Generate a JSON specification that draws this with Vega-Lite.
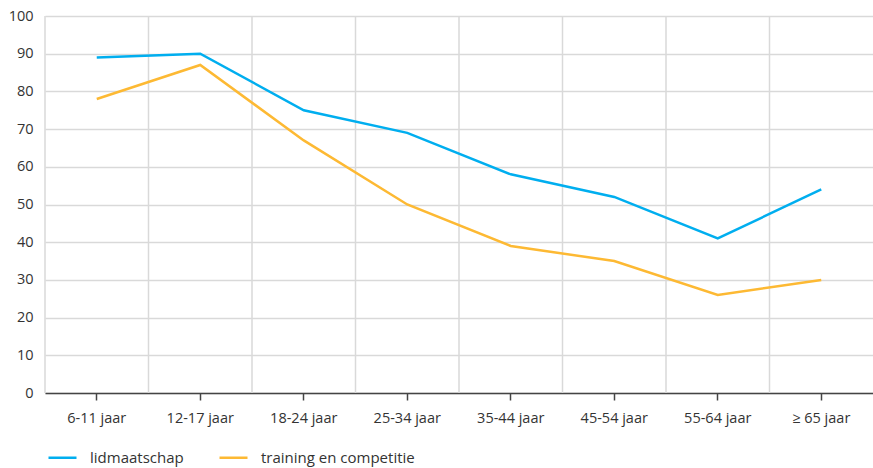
{
  "$schema": "https://vega.github.io/schema/vega-lite/v6.json",
  "autosize": {"type": "none"},
  "padding": {"left": 45, "top": 16, "right": 0, "bottom": 75},
  "width": 828,
  "height": 377,
  "config": {
    "font": "Open Sans",
    "view": {"stroke": null}
  },
  "data": {
    "values": [
      {"leeftijd": "6-11 jaar", "reeks": "lidmaatschap", "waarde": 89},
      {"leeftijd": "12-17 jaar", "reeks": "lidmaatschap", "waarde": 90},
      {"leeftijd": "18-24 jaar", "reeks": "lidmaatschap", "waarde": 75},
      {"leeftijd": "25-34 jaar", "reeks": "lidmaatschap", "waarde": 69},
      {"leeftijd": "35-44 jaar", "reeks": "lidmaatschap", "waarde": 58},
      {"leeftijd": "45-54 jaar", "reeks": "lidmaatschap", "waarde": 52},
      {"leeftijd": "55-64 jaar", "reeks": "lidmaatschap", "waarde": 41},
      {"leeftijd": "≥ 65 jaar", "reeks": "lidmaatschap", "waarde": 54},
      {"leeftijd": "6-11 jaar", "reeks": "training en competitie", "waarde": 78},
      {"leeftijd": "12-17 jaar", "reeks": "training en competitie", "waarde": 87},
      {"leeftijd": "18-24 jaar", "reeks": "training en competitie", "waarde": 67},
      {"leeftijd": "25-34 jaar", "reeks": "training en competitie", "waarde": 50},
      {"leeftijd": "35-44 jaar", "reeks": "training en competitie", "waarde": 39},
      {"leeftijd": "45-54 jaar", "reeks": "training en competitie", "waarde": 35},
      {"leeftijd": "55-64 jaar", "reeks": "training en competitie", "waarde": 26},
      {"leeftijd": "≥ 65 jaar", "reeks": "training en competitie", "waarde": 30}
    ]
  },
  "encoding": {
    "x": {
      "field": "leeftijd",
      "type": "nominal",
      "sort": null,
      "scale": {"type": "band", "paddingInner": 0, "paddingOuter": 0},
      "axis": {
        "title": null,
        "labelAngle": 0,
        "grid": false,
        "domainColor": "#444444",
        "domainWidth": 1.5,
        "tickColor": "#444444",
        "tickWidth": 1.5,
        "tickSize": 7,
        "labelFontSize": 14.5,
        "labelColor": "#333333",
        "labelPadding": 11
      }
    }
  },
  "layer": [
    {
      "transform": [{"filter": "datum.reeks === 'lidmaatschap'"}],
      "mark": {"type": "rule", "color": "#d9d9d9", "strokeWidth": 1.5},
      "encoding": {
        "x": {"field": "leeftijd", "type": "nominal", "sort": null, "bandPosition": 0}
      }
    },
    {
      "mark": {"type": "line", "strokeWidth": 2.5},
      "encoding": {
        "y": {
          "field": "waarde",
          "type": "quantitative",
          "scale": {"domain": [0, 100]},
          "axis": {
            "title": null,
            "values": [0, 10, 20, 30, 40, 50, 60, 70, 80, 90, 100],
            "grid": true,
            "gridColor": "#d9d9d9",
            "gridWidth": 1.5,
            "domain": false,
            "ticks": false,
            "labelFontSize": 14.5,
            "labelColor": "#333333",
            "labelPadding": 12
          }
        },
        "color": {
          "field": "reeks",
          "type": "nominal",
          "scale": {
            "domain": ["lidmaatschap", "training en competitie"],
            "range": ["#00aeef", "#fdb933"]
          },
          "legend": {
            "title": null,
            "orient": "none",
            "direction": "horizontal",
            "legendX": 2,
            "legendY": 426,
            "symbolType": "stroke",
            "symbolStrokeWidth": 2.5,
            "symbolSize": 784,
            "labelFontSize": 15,
            "labelColor": "#333333",
            "labelOffset": 12,
            "columnPadding": 30
          }
        }
      }
    }
  ]
}
